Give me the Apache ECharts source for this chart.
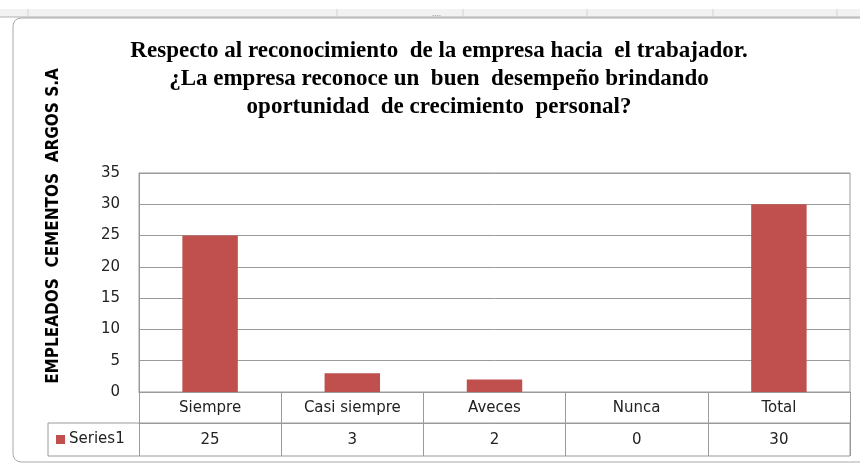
<!DOCTYPE html>
<html>
<head>
    <meta charset="utf-8">
    <title>Reconocimiento de la empresa</title>
    <script src="https://cdn.jsdelivr.net/npm/echarts@6/dist/echarts.min.js"></script>
    <style>
        html, body { margin: 0; padding: 0; background: #fff; }
        #main { width: 860px; height: 466px; }
    </style>
</head>
<body>
<div id="main"></div>
<script>
    var categorias = ['Siempre', 'Casi siempre', 'Aveces', 'Nunca', 'Total'];
    var valores = [25, 3, 2, 0, 30];
    var nombreSerie = 'Series1';
    var ticksY = [0, 5, 10, 15, 20, 25, 30, 35];

    var gris = '#9a9a9a';
    var fuente = '"DejaVu Sans"';

    var chart = echarts.init(document.getElementById('main'));

    var option = {
        animation: false,
        backgroundColor: '#fff',
        title: {
            text: 'Respecto al reconocimiento  de la empresa hacia  el trabajador.\n¿La empresa reconoce un  buen  desempeño brindando\noportunidad  de crecimiento  personal?',
            left: 434,
            top: 32,
            textAlign: 'center',
            textStyle: {
                fontFamily: 'Liberation Serif',
                fontWeight: 'bold',
                fontSize: 23,
                lineHeight: 28,
                color: '#000'
            }
        },
        legend: {
            data: [nombreSerie],
            left: 56,
            top: 432,
            padding: 0,
            itemWidth: 9,
            itemHeight: 9,
            icon: 'rect',
            textStyle: { fontFamily: fuente, fontSize: 15, color: '#222', padding: [0, 0, 0, -1] }
        },
        grid: {
            left: 139,
            right: 10,
            top: 173,
            bottom: 74,
            show: true,
            borderColor: gris,
            borderWidth: 1
        },
        xAxis: [{
            type: 'category',
            data: categorias,
            position: 'bottom',
            axisLine: { show: true, lineStyle: { color: gris } },
            axisTick: { show: true, length: 31, lineStyle: { color: gris } },
            axisLabel: { margin: 9, fontFamily: fuente, fontSize: 15, color: '#222' }
        }, {
            type: 'category',
            data: categorias,
            position: 'bottom',
            offset: 31,
            axisLine: { show: true, lineStyle: { color: gris } },
            axisTick: { show: true, length: 33, lineStyle: { color: gris } },
            axisLabel: {
                margin: 10,
                fontFamily: fuente,
                fontSize: 15,
                color: '#222',
                formatter: function (v, i) { return String(valores[i]); }
            }
        }],
        yAxis: {
            type: 'value',
            min: ticksY[0],
            max: ticksY[ticksY.length - 1],
            interval: 5,
            axisLine: { show: true, lineStyle: { color: gris } },
            axisTick: { show: false },
            axisLabel: { margin: 19, fontFamily: fuente, fontSize: 15, color: '#222' },
            splitLine: { show: true, lineStyle: { color: gris } }
        },
        series: [{
            name: nombreSerie,
            type: 'bar',
            data: valores,
            barWidth: '39%',
            itemStyle: { color: '#c0504d' }
        }],
        graphic: [
            // franja de la hoja de cálculo
            { type: 'rect', shape: { x: 0, y: 9, width: 860, height: 8 }, style: { fill: '#f2f2f2' }, z: 0 },
            { type: 'line', shape: { x1: 0, y1: 17, x2: 860, y2: 17 }, style: { stroke: '#b0b0b0' } },
            { type: 'line', shape: { x1: 28, y1: 9, x2: 28, y2: 17 }, style: { stroke: '#d4d4d4' } },
            { type: 'line', shape: { x1: 337, y1: 9, x2: 337, y2: 17 }, style: { stroke: '#d4d4d4' } },
            { type: 'line', shape: { x1: 463, y1: 9, x2: 463, y2: 17 }, style: { stroke: '#d4d4d4' } },
            { type: 'line', shape: { x1: 587, y1: 9, x2: 587, y2: 17 }, style: { stroke: '#d4d4d4' } },
            { type: 'line', shape: { x1: 713, y1: 9, x2: 713, y2: 17 }, style: { stroke: '#d4d4d4' } },
            { type: 'line', shape: { x1: 837, y1: 9, x2: 837, y2: 17 }, style: { stroke: '#d4d4d4' } },
            { type: 'text', x: 432, y: 10, style: { text: '....', fill: '#aaa', font: 'bold 8px sans-serif' } },
            // borde del gráfico
            { type: 'rect', shape: { x: 13, y: 18, width: 880, height: 444, r: 8 }, style: { fill: 'none', stroke: '#a8a8a8', lineWidth: 1 } },
            // fila de la serie en la tabla de datos
            { type: 'rect', shape: { x: 48, y: 423, width: 802, height: 33 }, style: { fill: 'none', stroke: gris, lineWidth: 1 } },
            // título del eje vertical
            {
                type: 'text',
                x: 54,
                y: 226,
                rotation: Math.PI / 2,
                style: {
                    text: 'EMPLEADOS  CEMENTOS  ARGOS S.A',
                    align: 'center',
                    verticalAlign: 'middle',
                    fontFamily: '"DejaVu Sans Condensed", "Liberation Sans Narrow", sans-serif',
                    fontWeight: 'bold',
                    fontSize: 17,
                    fill: '#000'
                }
            }
        ]
    };

    chart.setOption(option);
</script>
</body>
</html>
